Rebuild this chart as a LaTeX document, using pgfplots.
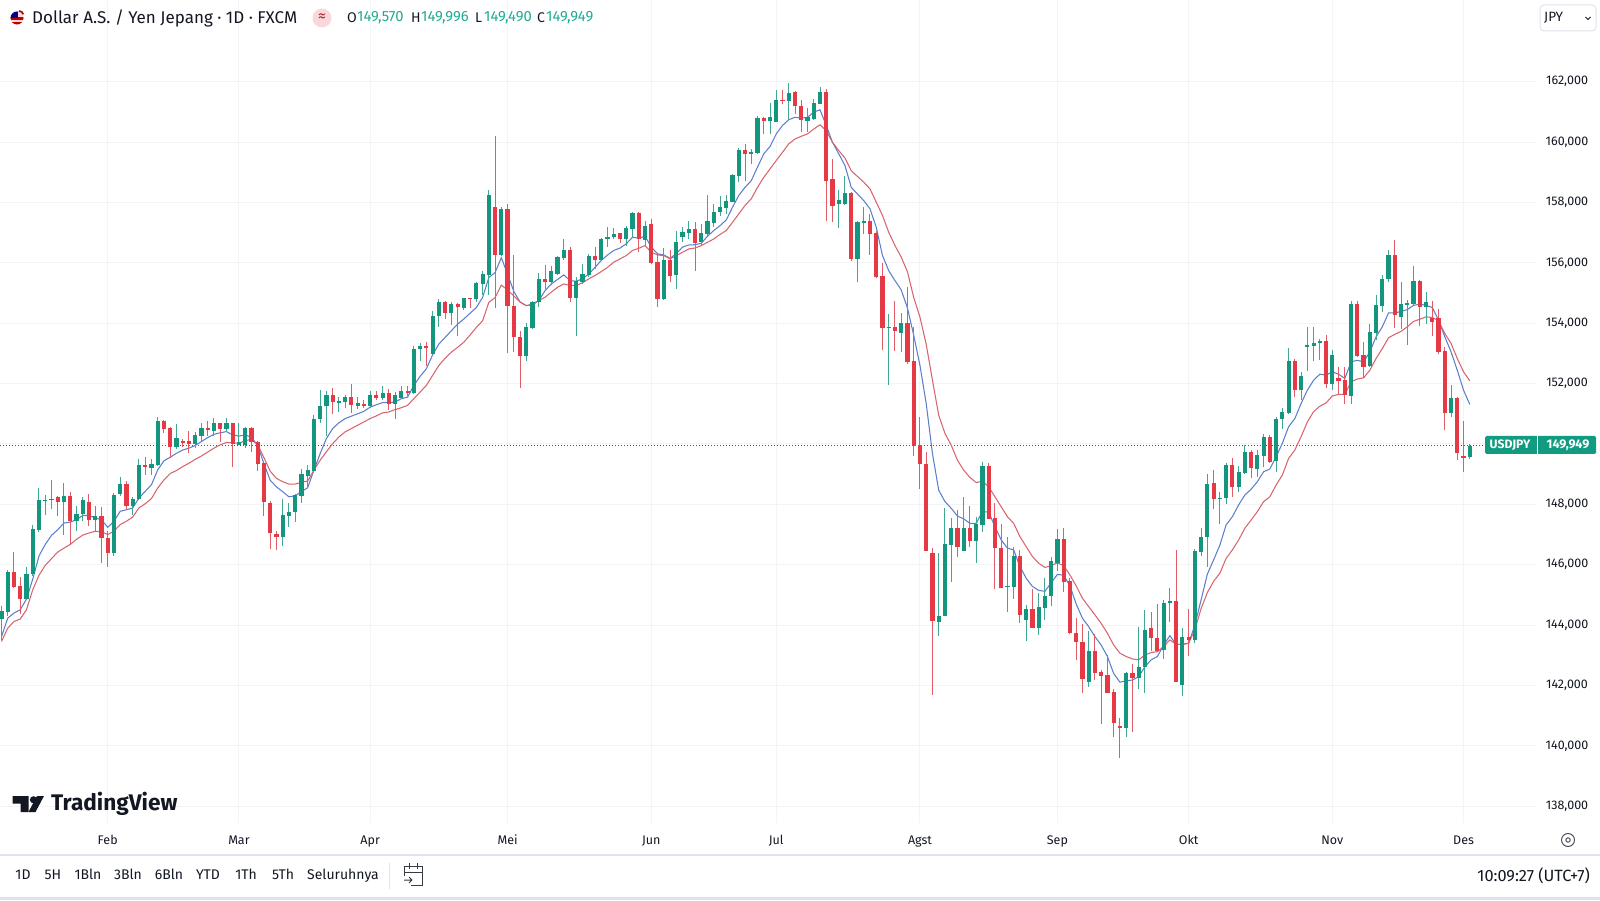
\documentclass[border=0pt]{standalone}
\usepackage{pgfplots}
\usepackage{pgfplotstable}
\usepackage{fontspec}
\setmainfont{Fira Sans}
\pgfplotsset{compat=1.18}
\definecolor{upc}{HTML}{13967D}
\definecolor{dnc}{HTML}{E63946}
\definecolor{upw}{HTML}{3FA792}
\definecolor{dnw}{HTML}{E25C67}
\definecolor{emab}{HTML}{5B7FCB}
\definecolor{emar}{HTML}{D9646E}
\definecolor{gridc}{HTML}{F3F4F7}
\definecolor{ink}{HTML}{131722}
\definecolor{teal}{HTML}{22AB94}
\definecolor{tagc}{HTML}{119B80}
\definecolor{linec}{HTML}{E0E3EB}
% i open high low close
\pgfplotstableread{
i o h l c
-17 144.21 144.64 143.51 144.48
-16 144.45 145.83 144.31 145.76
-13 144.87 145.94 144.84 145.70
-12 145.68 147.32 145.63 147.20
-11 147.16 148.54 147.09 148.15
-10 148.14 148.32 147.66 148.16
-9 148.16 148.81 147.85 148.19
-7 148.08 148.70 147.00 148.27
-5 147.46 147.96 147.11 147.68
-4 147.68 148.24 147.44 148.15
-2 147.47 147.93 147.11 147.60
1 146.40 148.37 146.29 148.32
2 148.34 148.89 148.26 148.67
4 147.93 148.24 147.66 148.18
5 148.18 149.51 148.15 149.31
7 149.22 149.49 148.96 149.34
8 149.31 150.90 149.27 150.76
11 149.89 150.65 149.84 150.19
14 150.00 150.41 149.88 150.30
15 150.26 150.68 150.10 150.52
17 150.43 150.85 150.27 150.68
19 150.49 150.85 150.41 150.68
21 149.97 150.71 149.95 150.07
22 149.97 150.57 149.88 150.54
28 146.91 148.18 146.62 147.65
29 147.61 148.05 147.24 147.76
30 147.74 148.34 147.43 148.31
31 148.29 149.16 148.03 149.00
32 148.94 149.32 148.58 149.13
33 149.11 150.95 149.08 150.84
34 150.82 151.80 150.71 151.25
35 151.25 151.75 150.26 151.61
37 151.39 151.55 151.06 151.42
38 151.39 151.61 151.20 151.54
40 151.26 151.55 151.15 151.36
42 151.25 151.75 151.20 151.63
44 151.53 151.92 151.47 151.69
46 151.31 151.72 150.82 151.61
47 151.53 151.92 151.50 151.77
49 151.70 153.24 151.64 153.15
50 153.14 153.34 152.76 153.26
52 152.98 154.41 152.98 154.25
53 154.23 154.80 153.86 154.69
55 154.34 154.69 153.95 154.63
57 154.52 154.85 154.45 154.82
59 154.80 155.35 154.71 155.33
60 155.30 155.73 154.94 155.63
61 155.60 158.40 154.94 158.26
63 156.26 157.85 156.23 157.79
67 152.90 154.00 152.74 153.86
68 153.85 154.73 153.81 154.70
69 154.70 155.67 154.53 155.47
71 155.38 155.91 155.25 155.74
72 155.63 156.24 155.58 156.19
73 156.15 156.79 156.08 156.41
75 154.84 155.52 153.59 155.39
76 155.36 155.96 155.30 155.63
77 155.58 156.30 155.52 156.24
79 156.10 156.81 156.08 156.79
80 156.78 157.18 156.52 156.87
81 156.85 157.15 156.79 156.96
83 156.79 157.23 156.57 157.16
84 157.13 157.70 156.85 157.64
86 156.77 157.38 156.57 157.23
89 154.81 156.48 154.77 156.08
91 155.58 157.05 155.14 156.68
92 156.87 157.18 156.68 157.01
93 156.98 157.40 156.79 157.12
95 156.68 157.29 156.57 156.98
96 156.96 158.26 156.88 157.37
97 157.31 157.95 157.18 157.70
98 157.68 158.20 157.54 157.84
99 157.82 158.26 157.62 158.06
100 158.03 158.94 158.00 158.90
101 158.87 159.81 158.69 159.75
103 159.61 159.77 159.28 159.66
104 159.64 160.88 159.60 160.79
106 160.71 161.30 160.27 160.82
107 160.66 161.74 160.66 161.41
109 161.37 161.96 160.77 161.63
112 160.71 161.13 160.32 160.82
113 160.77 161.43 160.74 161.28
114 161.26 161.81 161.26 161.65
117 157.95 158.41 157.16 158.08
118 157.95 158.86 157.93 158.32
120 156.13 157.38 155.36 157.34
121 157.33 157.86 156.96 157.37
125 153.84 154.31 151.94 153.89
127 153.67 154.34 153.04 154.01
133 144.12 146.38 143.63 144.31
134 144.29 147.89 144.29 146.68
135 146.66 147.54 145.44 147.21
137 146.44 148.23 146.44 147.21
139 146.79 147.59 146.07 147.34
140 147.32 149.41 147.07 149.27
144 145.26 146.91 144.43 145.30
145 145.26 146.60 144.86 146.29
147 144.18 144.67 143.46 144.53
149 143.90 145.06 143.68 144.59
150 144.56 145.56 144.18 144.97
151 144.95 146.27 144.64 146.13
152 146.07 147.17 145.78 146.84
157 142.11 143.81 141.94 143.14
163 140.60 142.43 140.31 142.40
165 142.24 143.95 141.87 142.60
166 142.60 144.50 141.74 143.84
169 143.18 144.83 142.88 144.74
170 144.74 145.22 144.11 144.79
172 142.02 143.92 141.65 143.62
174 143.51 146.51 143.42 146.47
175 146.43 147.21 146.30 146.93
176 146.91 149.00 145.94 148.67
178 148.19 148.40 147.35 148.22
179 148.20 149.38 148.01 149.30
181 148.56 149.27 148.40 149.08
182 149.03 149.98 149.00 149.74
184 149.17 149.80 148.89 149.63
185 149.60 150.33 149.25 150.22
187 149.43 150.90 149.08 150.84
188 150.82 151.18 150.49 151.07
189 151.03 153.19 150.99 152.74
191 151.78 152.39 151.45 152.24
192 153.21 153.88 152.41 153.27
193 153.25 153.88 152.74 153.35
194 153.33 153.49 152.77 153.41
196 152.00 153.10 151.80 152.94
199 151.59 154.73 151.31 154.63
202 152.59 153.96 152.55 153.71
203 153.69 154.92 153.44 154.59
204 154.56 155.61 154.37 155.48
205 155.45 156.41 155.37 156.25
207 154.19 155.36 153.82 154.65
208 154.63 154.78 153.27 154.67
209 154.63 155.88 154.59 155.39
211 154.52 155.03 153.96 154.70
215 151.04 151.95 150.90 151.51
218 149.570 149.996 149.490 149.949
}\upbars
\pgfplotstableread{
i o h l c
-15 145.76 146.42 145.23 145.26
-14 145.28 145.59 144.38 144.87
-8 148.26 148.29 147.63 148.08
-6 148.27 148.40 146.67 147.46
-3 148.09 148.34 147.27 147.47
-1 147.60 147.90 146.07 146.88
0 146.89 147.11 145.93 146.40
3 148.68 148.76 147.86 147.93
6 149.31 149.58 148.98 149.23
9 150.76 150.79 150.35 150.49
10 150.54 150.57 149.55 149.89
12 150.10 150.16 149.91 150.04
13 150.10 150.43 149.71 150.01
16 150.52 150.76 150.27 150.46
18 150.68 150.71 150.08 150.49
20 150.68 150.71 149.23 149.99
23 150.54 150.57 149.75 150.05
24 150.05 150.10 149.12 149.34
25 149.36 149.36 147.60 148.07
26 148.05 148.11 146.51 147.06
27 147.01 147.13 146.49 146.91
36 151.61 151.85 151.00 151.39
39 151.54 151.97 151.04 151.28
41 151.33 151.44 151.20 151.27
43 151.63 151.77 151.47 151.52
45 151.70 151.81 151.11 151.31
48 151.77 151.92 151.60 151.70
51 153.26 153.37 152.57 153.18
54 154.69 154.74 154.14 154.34
56 154.63 154.66 153.59 154.55
58 154.84 154.85 154.50 154.81
62 157.85 160.19 154.50 156.26
64 157.79 157.96 153.00 154.56
65 154.58 156.26 153.04 153.53
66 153.56 153.73 151.86 152.90
70 155.47 155.93 155.14 155.38
74 156.41 156.52 154.70 154.84
78 156.24 156.54 155.80 156.11
82 156.98 156.99 156.65 156.79
85 157.64 157.68 156.35 156.79
87 157.27 157.45 155.96 155.99
88 156.02 156.30 154.53 154.81
90 156.08 156.41 155.36 155.58
94 157.12 157.34 155.72 156.65
102 159.75 159.94 158.72 159.59
105 160.79 160.82 160.27 160.71
108 161.41 161.74 161.26 161.37
110 161.65 161.68 160.93 161.18
111 161.21 161.40 160.32 160.74
115 161.65 161.76 157.40 158.72
116 158.76 159.44 157.34 157.87
119 158.32 158.34 156.05 156.13
122 157.37 157.62 156.27 156.97
123 156.98 157.04 155.50 155.52
124 155.55 155.99 153.10 153.84
126 153.89 154.73 153.08 153.73
128 154.01 155.19 152.66 152.71
129 152.74 153.89 149.61 149.94
130 149.96 150.90 148.51 149.32
131 149.32 149.74 146.44 146.46
132 146.38 146.57 141.70 144.12
136 147.21 147.81 146.27 146.58
138 147.21 147.94 146.60 146.79
141 149.27 149.38 147.52 147.52
142 147.56 148.06 145.19 146.57
143 146.57 147.35 145.22 145.22
146 146.29 146.49 144.07 144.32
148 144.53 145.19 143.90 143.90
153 146.84 147.21 145.11 145.44
154 145.47 145.56 143.72 143.74
155 143.74 144.23 142.86 143.44
156 143.45 144.04 141.76 142.22
158 143.14 143.70 142.18 142.40
159 142.44 142.51 140.73 142.32
160 142.35 143.01 141.76 141.76
161 141.80 141.87 140.28 140.75
162 140.66 140.91 139.59 140.60
164 142.40 142.71 140.45 142.24
167 143.89 144.45 143.15 143.58
168 143.58 144.70 143.15 143.15
171 144.80 146.49 142.13 142.13
173 143.62 144.52 142.96 143.49
177 148.72 149.14 147.83 148.17
180 149.30 149.54 148.25 148.56
183 149.74 149.80 148.86 149.19
186 150.22 150.29 149.36 149.41
190 152.74 152.83 151.56 151.80
195 153.40 153.62 151.84 152.00
197 152.17 152.55 151.62 152.09
198 152.11 152.55 151.34 151.62
200 154.63 154.73 152.88 152.91
201 152.94 153.38 152.17 152.55
206 156.25 156.74 153.85 154.26
210 155.39 155.42 153.90 154.52
212 154.18 154.73 153.57 154.04
213 154.17 154.48 152.99 153.03
214 153.08 153.22 150.46 151.04
216 151.51 151.56 149.47 149.71
217 149.60 150.77 149.08 149.55
}\dnbars
\pgfplotstableread{
i b r
-17 143.62 143.46
-16 144.23 143.90
-15 144.40 144.12
-14 144.51 144.20
-13 144.86 144.51
-12 145.52 145.17
-11 146.29 145.65
-10 146.67 145.98
-9 146.97 146.20
-8 147.16 146.42
-7 147.38 146.55
-6 147.41 146.67
-5 147.49 146.84
-4 147.63 146.98
-3 147.63 147.05
-2 147.55 147.11
-1 147.49 147.09
0 147.24 147.00
1 147.44 147.11
2 147.77 147.33
3 147.82 147.44
4 147.88 147.58
5 148.21 147.88
6 148.43 148.02
7 148.65 148.19
8 149.14 148.54
9 149.44 148.81
10 149.56 149.02
11 149.69 149.12
12 149.80 149.25
13 149.86 149.36
14 149.95 149.49
15 150.08 149.60
16 150.21 149.73
17 150.32 149.86
18 150.37 149.97
19 150.41 150.05
20 150.30 150.04
21 150.26 150.02
22 150.30 150.11
23 150.22 150.15
24 149.95 149.97
25 149.35 149.55
26 148.80 149.10
27 148.58 148.86
28 148.42 148.75
29 148.25 148.67
30 148.28 148.67
31 148.42 148.73
32 148.55 148.77
33 149.13 149.13
34 149.68 149.46
35 150.18 149.74
36 150.51 150.01
37 150.70 150.23
38 150.84 150.40
39 150.92 150.51
40 151.00 150.62
41 151.08 150.73
42 151.22 150.84
43 151.30 150.93
44 151.37 151.03
45 151.37 151.06
46 151.39 151.14
47 151.50 151.20
48 151.55 151.28
49 151.94 151.50
50 152.24 151.72
51 152.49 151.94
52 152.95 152.27
53 153.31 152.60
54 153.53 152.84
55 153.75 153.04
56 153.97 153.20
57 154.14 153.37
58 154.33 153.61
59 154.52 153.86
60 154.85 154.08
61 155.51 154.69
62 155.68 154.85
63 156.17 155.26
64 155.62 155.10
65 155.05 154.90
66 154.70 154.70
67 154.58 154.58
68 154.61 154.64
69 154.75 154.75
70 155.08 154.86
71 155.30 155.03
72 155.45 155.19
73 155.60 155.30
74 155.41 155.25
75 155.39 155.25
76 155.47 155.34
77 155.63 155.47
78 155.85 155.58
79 156.08 155.71
80 156.26 155.85
81 156.41 156.02
82 156.49 156.13
83 156.63 156.24
84 156.85 156.41
85 156.81 156.48
86 156.88 156.57
87 156.52 156.35
88 156.30 156.26
89 156.26 156.24
90 156.15 156.13
91 156.30 156.24
92 156.52 156.35
93 156.59 156.46
94 156.60 156.49
95 156.65 156.57
96 156.88 156.68
97 157.07 156.79
98 157.23 156.94
99 157.42 157.07
100 157.84 157.34
101 158.23 157.62
102 158.50 157.90
103 158.72 158.12
104 159.17 158.50
105 159.61 158.83
106 159.85 159.11
107 160.27 159.39
108 160.55 159.66
109 160.74 159.94
110 160.82 160.10
111 160.79 160.19
112 160.82 160.27
113 160.99 160.43
114 161.07 160.57
115 160.55 160.38
116 159.99 159.99
117 159.61 159.72
118 159.22 159.47
119 158.50 159.05
120 158.28 158.86
121 158.06 158.67
122 157.79 158.45
123 157.18 158.01
124 156.24 157.57
125 155.74 157.01
126 155.41 156.57
127 155.10 156.19
128 154.50 155.70
129 153.60 154.85
130 152.60 154.20
131 151.34 153.30
132 149.68 152.11
133 148.47 150.95
134 148.09 150.35
135 147.87 149.96
136 147.61 149.46
137 147.52 149.13
138 147.37 148.89
139 147.37 148.72
140 147.76 148.77
141 147.74 148.58
142 147.26 148.25
143 146.82 147.92
144 146.55 147.59
145 146.49 147.37
146 145.94 146.93
147 145.55 146.60
148 145.28 146.27
149 145.15 146.05
150 145.12 145.91
151 145.40 145.97
152 145.68 146.06
153 145.65 145.97
154 145.30 145.66
155 144.70 145.30
156 144.23 144.89
157 143.95 144.61
158 143.62 144.34
159 143.34 144.06
160 142.96 143.73
161 142.40 143.34
162 142.11 143.07
163 142.15 142.96
164 142.18 142.88
165 142.29 142.85
166 142.62 143.01
167 142.85 143.09
168 142.96 143.12
169 143.34 143.29
170 143.65 143.51
171 143.36 143.36
172 143.36 143.36
173 143.40 143.40
174 144.00 143.85
175 144.84 144.55
176 145.69 145.08
177 146.16 145.45
178 146.65 145.72
179 147.32 146.21
180 147.59 146.49
181 147.98 146.82
182 148.31 147.21
183 148.50 147.48
184 148.75 147.76
185 149.08 148.09
186 149.17 148.25
187 149.58 148.64
188 150.02 148.97
189 150.57 149.52
190 150.84 149.80
191 151.34 150.24
192 151.78 150.73
193 152.11 151.07
194 152.31 151.25
195 152.28 151.36
196 152.39 151.59
197 152.31 151.64
198 152.17 151.64
199 152.72 152.06
200 152.77 152.15
201 152.72 152.19
202 153.05 152.44
203 153.55 152.83
204 153.88 153.16
205 154.34 153.52
206 154.34 153.63
207 154.39 153.73
208 154.45 153.88
209 154.59 154.06
210 154.63 154.13
211 154.59 154.21
212 154.52 154.19
213 154.10 154.08
214 153.55 153.66
215 153.05 153.33
216 152.44 152.83
217 151.78 152.39
218 151.31 152.09
}\ema
\newcommand{\fs}[1]{\fontsize{#1}{#1}\selectfont}
\begin{document}
\begin{tikzpicture}[x=1pt,y=1pt]
\path[use as bounding box,fill=white] (0,0) rectangle (1600,900);
\begin{axis}[
  at={(0pt,77pt)},anchor=south west,
  scale only axis,width=1537pt,height=823pt,
  xmin=-17.24,xmax=228.76,ymin=137.445,ymax=164.705,
  axis line style={draw=none},
  major tick length=0pt,
  grid=major,grid style={gridc,line width=1pt},
  xtick={0,21,42,64,87,107,130,152,173,196,217},
  xticklabels={Feb,Mar,Apr,Mei,Jun,Jul,Agst,Sep,Okt,Nov,Des},
  ytick={138,140,...,162},
  yticklabel pos=right,
  yticklabels={{138,000},{140,000},{142,000},{144,000},{146,000},{148,000},{150,000},{152,000},{154,000},{156,000},{158,000},{160,000},{162,000}},
  xticklabel style={font=\fs{12.5},text=ink,anchor=center,text height=9pt,text depth=3pt,yshift=-18pt},
  yticklabel style={font=\fs{12.5},text=ink,anchor=center,xshift=30pt},
  clip=true,
]
\addplot[draw=tagc!75!black,line width=0.8pt,dash pattern=on 1pt off 2pt,forget plot] coordinates {(-17.24,149.949) (228.76,149.949)};
\addplot[emab,line width=1.05pt,forget plot] table[x=i,y=b] {\ema};
\addplot[emar,line width=1.05pt,forget plot] table[x=i,y=r] {\ema};
\addplot[draw=none,mark=none,forget plot,error bars/.cd,y dir=both,y explicit,error mark=none,error bar style={line width=1pt,upw}] table[x=i,y expr=(\thisrow{h}+\thisrow{l})/2,y error expr=(\thisrow{h}-\thisrow{l})/2] {\upbars};
\addplot[draw=none,mark=none,forget plot,error bars/.cd,y dir=both,y explicit,error mark=none,error bar style={line width=1pt,dnw}] table[x=i,y expr=(\thisrow{h}+\thisrow{l})/2,y error expr=(\thisrow{h}-\thisrow{l})/2] {\dnbars};
\addplot[draw=none,mark=none,forget plot,error bars/.cd,y dir=both,y explicit,error mark=none,error bar style={line width=4.2pt,upc}] table[x=i,y expr=(\thisrow{o}+\thisrow{c})/2,y error expr=(\thisrow{c}-\thisrow{o})/2] {\upbars};
\addplot[draw=none,mark=none,forget plot,error bars/.cd,y dir=both,y explicit,error mark=none,error bar style={line width=4.2pt,dnc}] table[x=i,y expr=(\thisrow{o}+\thisrow{c})/2,y error expr=(\thisrow{o}-\thisrow{c})/2] {\dnbars};
\end{axis}
% header
\begin{scope}
\clip (17,882) circle (6.5);
\fill[white!85!red] (10,875) rectangle (24,889);
\fill[red!75!black] (10,875) rectangle (24,877.5);
\fill[red!75!black] (10,880) rectangle (24,882.5);
\fill[blue!55!black] (10,882) rectangle (18,889);
\end{scope}
\draw[red!70!black,line width=1.6pt] (19,889) arc (90:15:4.5);
\node[anchor=west,inner sep=0,text=ink,font=\fs{17}] at (32,882) {Dollar A.S. / Yen Jepang · 1D · FXCM};
\fill[dnc!20] (322,882) circle (9.5);
\node[inner sep=0,text=dnc!70!black,font=\fs{16}] at (322,882) {≈};
\node[anchor=west,inner sep=0,text=ink,font=\fs{14}] at (347,882) {O};
\node[anchor=west,inner sep=0,text=teal,font=\fs{14.8}] at (357,882) {149,570};
\node[anchor=west,inner sep=0,text=ink,font=\fs{14}] at (411,882) {H};
\node[anchor=west,inner sep=0,text=teal,font=\fs{14.8}] at (421,882) {149,996};
\node[anchor=west,inner sep=0,text=ink,font=\fs{14}] at (475,882) {L};
\node[anchor=west,inner sep=0,text=teal,font=\fs{14.8}] at (484,882) {149,490};
\node[anchor=west,inner sep=0,text=ink,font=\fs{14}] at (537,882) {C};
\node[anchor=west,inner sep=0,text=teal,font=\fs{14.8}] at (546,882) {149,949};
% JPY box
\draw[linec,line width=1pt,fill=white,rounded corners=4pt] (1540,869) rectangle (1596,895);
\node[anchor=west,inner sep=0,text=ink,font=\fs{13.5}] at (1544,882) {JPY};
\draw[ink,line width=0.9pt] (1585.5,883) -- (1588,880.5) -- (1590.5,883);
% price tag
\fill[tagc,rounded corners=1.5pt] (1485,446) rectangle (1596,464);
\draw[white,line width=0.7pt] (1537,446) -- (1537,464);
\node[inner sep=0,text=white,font=\fs{12.2}\bfseries] at (1510,455) {USDJPY};
\node[inner sep=0,text=white,font=\fs{12.6}\bfseries] at (1568,455) {149,949};
% logo
\fill[ink] (12.5,104) -- (28.5,104) -- (28.5,88) -- (20.5,88) -- (20.5,96.5) -- (12.5,96.5) -- cycle;
\fill[ink] (33.5,100.2) circle (3.6);
\fill[ink] (37,104) -- (44,104) -- (35.5,88) -- (28.5,88) -- cycle;
\node[anchor=west,inner sep=0,text=ink,font=\fs{22.6}\bfseries] at (51,96) {TradingView};
% settings icon
\draw[ink!75,line width=1pt] (1568,60) circle (6.5);
\draw[ink!75,line width=1pt] (1568,60) circle (2.2);
% toolbar
\draw[linec,line width=1.4pt] (0,45) -- (1600,45);
\fill[linec] (0,0) rectangle (1600,3);
\foreach \xx/\tt in {23/1D,53/5H,88/1Bln,128/3Bln,169/6Bln,208/YTD,246/1Th,283/5Th,343/Seluruhnya}{
  \node[inner sep=0,text=ink,font=\fs{14},text height=10pt,text depth=3pt] at (\xx,24) {\tt};
}
\draw[linec,line width=1pt] (389,11) -- (389,37);
\draw[ink!85,line width=1pt] (404,24) -- (404,34) -- (422,34) -- (422,15) -- (411,15);
\draw[ink!85,line width=1pt] (404,28) -- (422,28);
\draw[ink!85,line width=1pt] (409,37) -- (409,31) (417,37) -- (417,31);
\draw[ink!85,line width=1pt] (404,20) -- (412,20) (409,23) -- (412,20) -- (409,17);
\node[anchor=east,inner sep=0,text=ink,font=\fs{16.3}] at (1590,24) {10:09:27 (UTC+7)};
\end{tikzpicture}
\end{document}
